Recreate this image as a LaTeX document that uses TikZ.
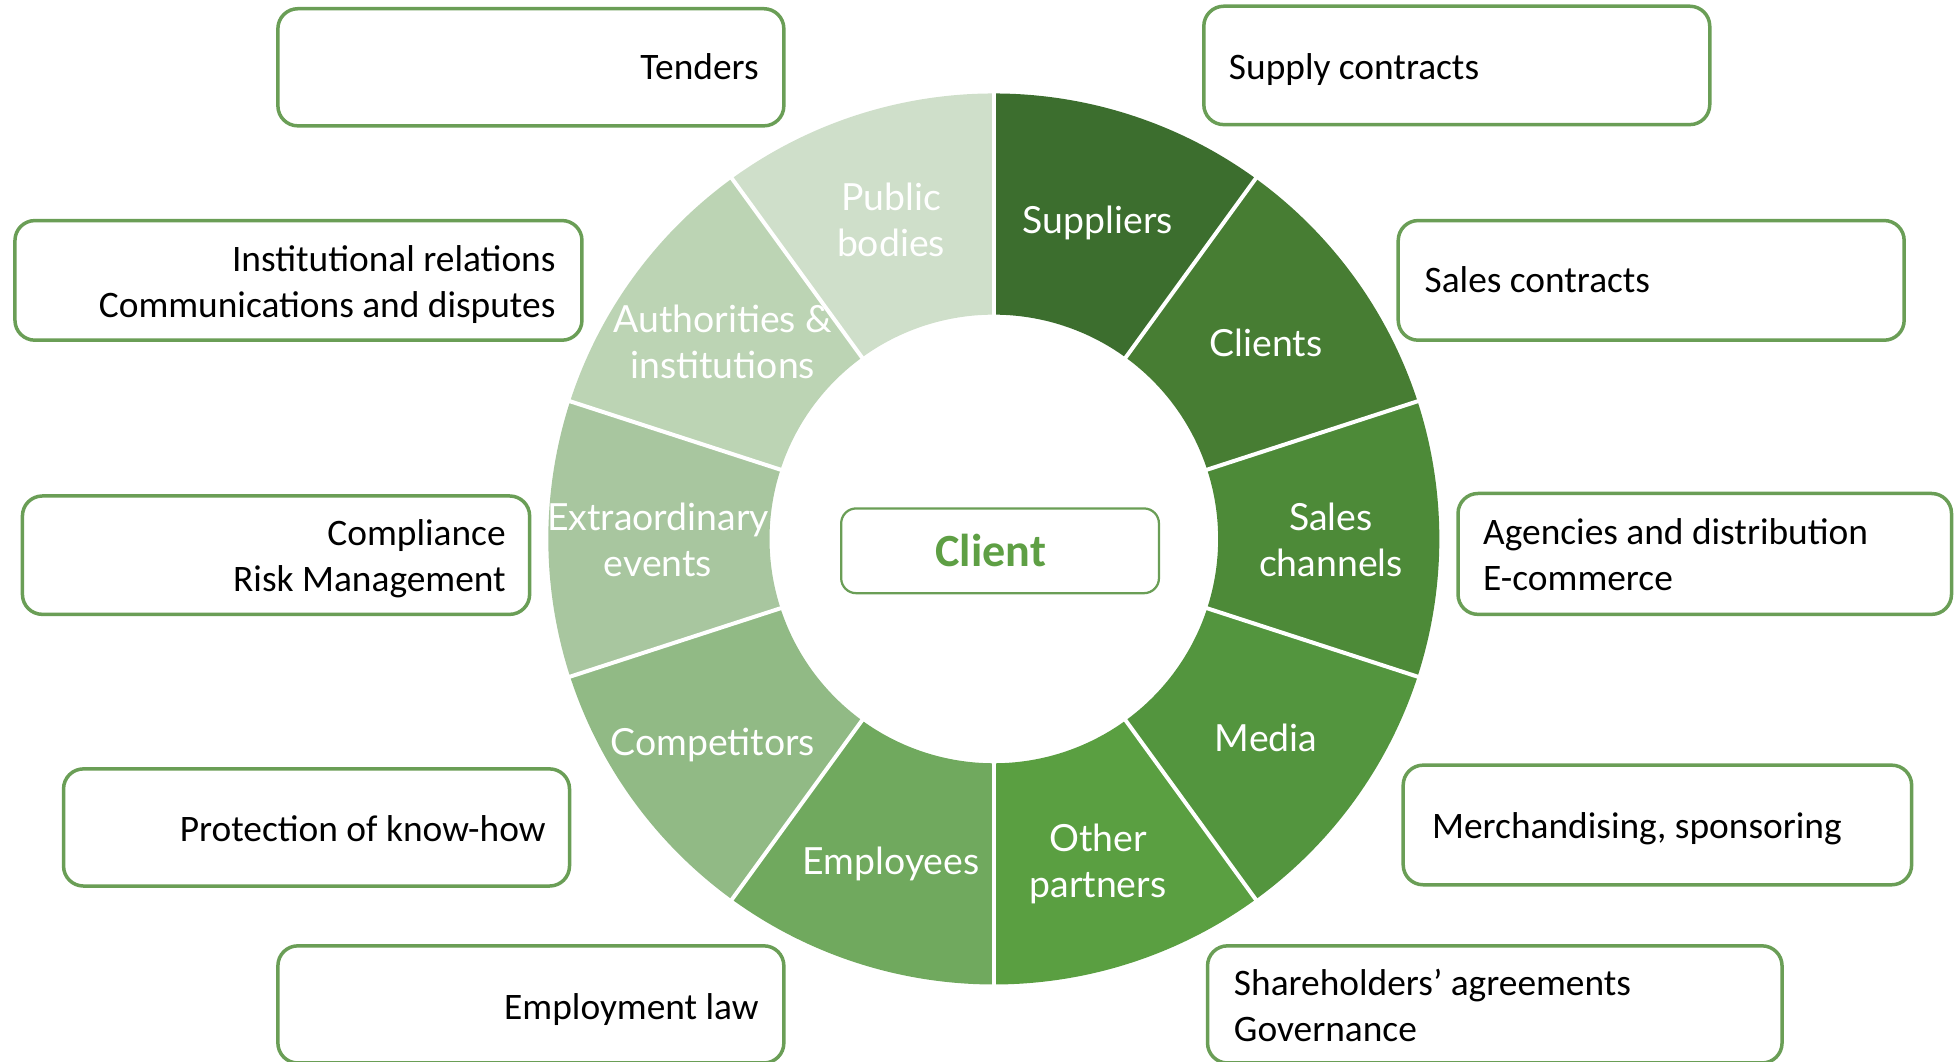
\documentclass[tikz,border=0pt]{standalone}
\usepackage{fontspec}
\newfontfamily\carlito{Carlito}
\newfontfamily\lato{Lato}
\definecolor{boxgreen}{HTML}{6A9E56}
\definecolor{clientgreen}{HTML}{5E9F44}
\definecolor{sA}{HTML}{3C6E2E}
\definecolor{sB}{HTML}{477D33}
\definecolor{sC}{HTML}{4D8A38}
\definecolor{sD}{HTML}{53953E}
\definecolor{sE}{HTML}{5A9F41}
\definecolor{sF}{HTML}{70A95E}
\definecolor{sG}{HTML}{91BA85}
\definecolor{sH}{HTML}{A8C69F}
\definecolor{sI}{HTML}{BCD4B4}
\definecolor{sJ}{HTML}{CFDFCA}
\tikzset{
  infobox/.style={draw=boxgreen, line width=2.8pt, rounded corners=16pt, inner sep=0pt, fill=white},
  btext/.style={inner sep=0pt, font=\fontsize{30}{37}\selectfont\carlito, text=black},
  seglabel/.style={inner sep=0pt, align=center, font=\fontsize{30}{37}\selectfont\lato, text=white},
  sepline/.style={white, line width=3.2pt}
}
\begin{document}
\begin{tikzpicture}[x=1pt,y=1pt]
\useasboundingbox (0,0) rectangle (1568,852);
\clip (0,0) rectangle (1568,852);
% ring
\begin{scope}[shift={(797.5,419.5)}]
\foreach \a/\c in {90/sA,54/sB,18/sC,-18/sD,-54/sE,-90/sF,-126/sG,-162/sH,-198/sI,-234/sJ}{
  \fill[\c] (\a:357.5) arc[start angle=\a, end angle=\a-36, radius=357.5pt]
     -- ({\a-36}:180) arc[start angle=\a-36, end angle=\a, radius=180pt] -- cycle;
}
\foreach \a in {90,54,18,-18,-54,-90,-126,-162,-198,-234}{
  \draw[sepline] (\a:176) -- (\a:362);
}
\end{scope}
% segment labels
\node[seglabel] (lpublic) at (715,672) {\strut Public\\\strut bodies};
\node[seglabel] (lsupp) at (881,672) {\strut Suppliers};
\node[seglabel] (lclients) at (1016,573) {\strut Clients};
\node[seglabel] (lsales) at (1068,415) {\strut Sales\\\strut channels};
\node[seglabel] (lmedia) at (1016,256) {\strut Media};
\node[seglabel] (lother) at (881,158) {\strut Other\\\strut partners};
\node[seglabel] (lempl) at (715,158) {\strut Employees};
\node[seglabel] (lcomp) at (572,253) {\strut Competitors};
\node[seglabel] (lextra) at (528,415) {\strut Extraordinary\\\strut events};
\node[seglabel] (lauth) at (580,574) {\strut Authorities \&\\\strut institutions};
% client box
\node[draw=boxgreen, line width=1.8pt, rounded corners=12pt, minimum width=255pt, minimum height=68pt, inner sep=0pt] (client) at (802.5,410) {};
\node[inner sep=0pt, font=\fontsize{37}{44}\selectfont\carlito\bfseries, text=clientgreen] (clienttxt) at (795,410) {Client};
% left boxes
\node[infobox, minimum width=406pt, minimum height=94pt] (tenders) at (426,798) {};
\node[btext, anchor=east] (tenderst) at (609,795.4) {\strut Tenders};
\node[infobox, minimum width=455pt, minimum height=96pt] (inst) at (239.5,627) {};
\node[btext, anchor=east, align=right] (instt) at (446,622.9) {\strut Institutional relations\\\strut Communications and disputes};
\node[infobox, minimum width=407pt, minimum height=95pt] (compl) at (221.5,406.5) {};
\node[btext, anchor=east, align=right] (complt) at (406,402.9) {\strut Compliance\\\strut Risk Management};
\node[infobox, minimum width=406pt, minimum height=94pt] (prot) at (254,188) {};
\node[btext, anchor=east] (prott) at (438,184.4) {\strut Protection of know-how};
\node[infobox, minimum width=406pt, minimum height=94pt] (empl) at (426,46) {};
\node[btext, anchor=east] (emplt) at (609,41.4) {\strut Employment law};
% right boxes
\node[infobox, minimum width=406pt, minimum height=95pt] (supply) at (1169,799.5) {};
\node[btext, anchor=west] (supplyt) at (986,795.4) {\strut Supply contracts};
\node[infobox, minimum width=406pt, minimum height=96pt] (sales) at (1325,627) {};
\node[btext, anchor=west] (salest) at (1143,624.4) {\strut Sales contracts};
\node[infobox, minimum width=396pt, minimum height=97pt] (agen) at (1368,407.5) {};
\node[btext, anchor=west, align=left] (agent) at (1190,403.9) {\strut Agencies and distribution\\\strut E-commerce};
\node[infobox, minimum width=408pt, minimum height=96pt] (merch) at (1330,190) {};
\node[btext, anchor=west] (mercht) at (1149,186.4) {\strut Merchandising, sponsoring};
\node[infobox, minimum width=461pt, minimum height=94pt] (share) at (1199.5,46) {};
\node[btext, anchor=west, align=left] (sharet) at (990,41.9) {\strut Shareholders’ agreements\\\strut Governance};
\end{tikzpicture}
\end{document}
